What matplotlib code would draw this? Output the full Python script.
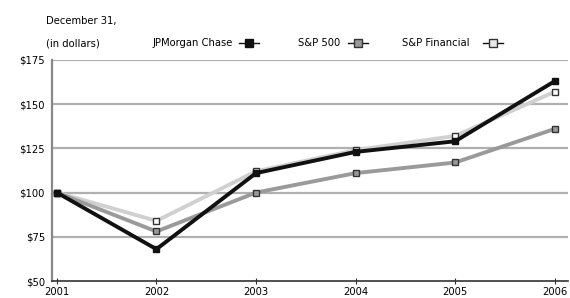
import matplotlib.pyplot as plt
from matplotlib.lines import Line2D

years = [2001, 2002, 2003, 2004, 2005, 2006]
jpm = [100, 68, 111, 123, 129, 163]
sp500 = [100, 78, 100, 111, 117, 136]
spfin = [100, 84, 112, 124, 132, 157]
yticks = [50, 75, 100, 125, 150, 175]
ylabels = ['$50', '$75', '$100', '$125', '$150', '$175']

plt.rcParams['font.family'] = ['DejaVu Sans']
plt.rcParams['font.stretch'] = 'condensed'
fig = plt.figure(figsize=(5.7, 2.98), dpi=100)
ax = fig.add_axes([0.091, 0.057, 0.905, 0.742])

for v in yticks[1:]:
    ax.axhline(v, color='#b0b0b0', lw=1.6, zorder=0)

ax.plot(years, spfin, color='#d0d0d0', lw=2.8, marker='s', ms=5,
        mfc='white', mec='#333333', mew=1, zorder=3)
ax.plot(years, sp500, color='#9a9a9a', lw=2.8, marker='s', ms=5,
        mfc='#999999', mec='#333333', mew=1, zorder=4)
ax.plot(years, jpm, color='#111111', lw=2.8, marker='s', ms=5,
        mfc='#111111', mec='#111111', zorder=5)

ax.set_xlim(2000.95, 2006.13)
ax.set_ylim(50, 175)
ax.set_yticks(yticks)
ax.set_yticklabels(ylabels)
ax.set_xticks(years)
ax.tick_params(axis='y', length=0, labelsize=8, pad=5)
ax.tick_params(axis='x', length=4, direction='inout', labelsize=8, pad=2, color='#333333')
for s in ['top', 'right']:
    ax.spines[s].set_visible(False)
ax.spines['left'].set_color('#888888')
ax.spines['left'].set_linewidth(1.6)
ax.spines['bottom'].set_color('#333333')
ax.spines['bottom'].set_linewidth(1.2)

fig.text(0.081, 0.93, 'December 31,', fontsize=8, va='center')
fig.text(0.081, 0.855, '(in dollars)', fontsize=8, va='center')

items = [('JPMorgan Chase', 0.267, 0.437, '#111111', '#111111', '#111111'),
         ('S&P 500', 0.523, 0.628, '#999999', '#999999', '#333333'),
         ('S&P Financial', 0.705, 0.865, '#cfcfcf', '#e8e8e8', '#333333')]
for name, tx, mx, lc, fc, ec in items:
    fig.text(tx, 0.855, name, fontsize=8, va='center')
    fig.add_artist(Line2D([mx - 0.018, mx + 0.018], [0.855, 0.855], color='#111111', lw=1,
                          transform=fig.transFigure))
    fig.add_artist(Line2D([mx], [0.855], marker='s', ms=6, mfc=fc, mec=ec, mew=1,
                          transform=fig.transFigure))

fig.savefig('out.png', dpi=100)
